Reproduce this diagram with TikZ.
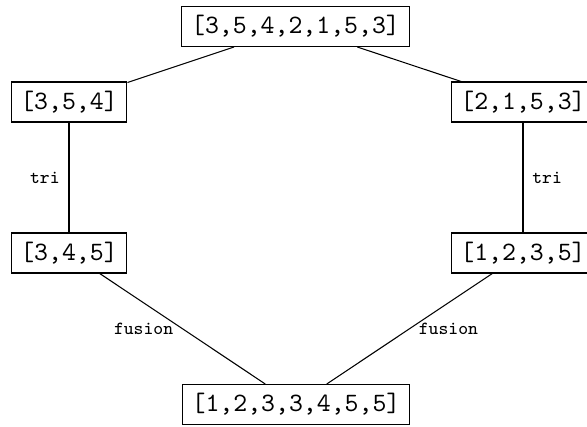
\documentclass[tikz,border=0pt]{standalone}
\begin{document}
\begin{tikzpicture}[x=0.3774pt,y=-0.3774pt,
  listbox/.style={draw,font=\ttfamily,inner xsep=3.5pt,inner ysep=0pt,minimum height=15.1pt},
  steplabel/.style={font=\ttfamily\scriptsize,midway}]
  \clip (0,0) rectangle (587,426);
  % list nodes
  \node[listbox] (top) at (295.5,26.5) {[3,5,4,2,1,5,3]};
  \node[listbox] (l1)  at (69,102)     {[3,5,4]};
  \node[listbox] (r1)  at (523,102)    {[2,1,5,3]};
  \node[listbox] (l2)  at (69,253)     {[3,4,5]};
  \node[listbox] (r2)  at (523,253)    {[1,2,3,5]};
  \node[listbox] (bot) at (296,404.5)  {[1,2,3,3,4,5,5]};
  % split
  \draw (top) -- (l1);
  \draw (top) -- (r1);
  % sort each half
  \draw (l1) -- node[steplabel,left]  {tri} (l2);
  \draw (r1) -- node[steplabel,right] {tri} (r2);
  % merge
  \draw (l2) -- node[steplabel,left]  {fusion} (bot);
  \draw (r2) -- node[steplabel,right] {fusion} (bot);
\end{tikzpicture}
\end{document}
